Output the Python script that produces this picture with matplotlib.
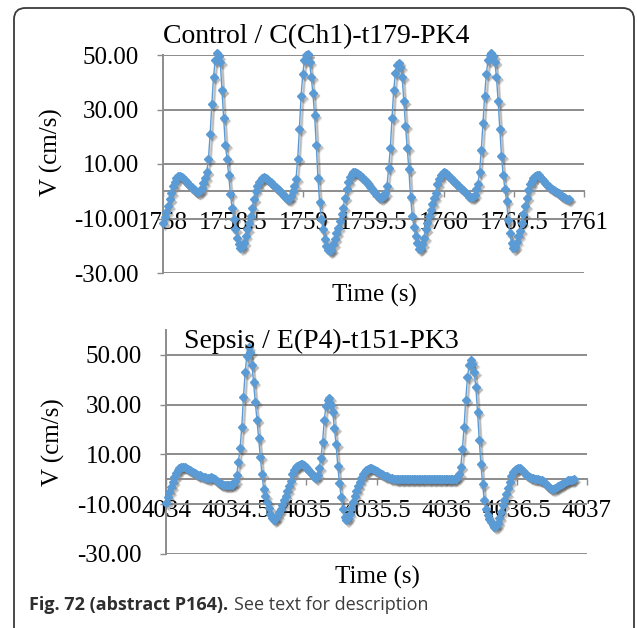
import numpy as np
import matplotlib
matplotlib.use("Agg")
import matplotlib.pyplot as plt
from matplotlib.patches import FancyBboxPatch
from matplotlib.transforms import offset_copy
from matplotlib.ticker import FixedLocator, FuncFormatter

plt.rcParams['font.family'] = 'Liberation Serif'

# sampling of the Doppler velocity trace (s)
SAMPLE_DT = 0.012
control_start = 1758.0
sepsis_start = 4034.0

control_title = "Control / C(Ch1)-t179-PK4"
sepsis_title = "Sepsis / E(P4)-t151-PK3"

control_xticks = [1758, 1758.5, 1759, 1759.5, 1760, 1760.5, 1761]
sepsis_xticks = [4034, 4034.5, 4035, 4035.5, 4036, 4036.5, 4037]
y_ticks = [-30, -10, 10, 30, 50]

# velocity (cm/s), one value per sample
control_v = [
    -11.5, -9.5, -7.5, -5.5, -3, -0.5, 1.8, 3.5, 4.8, 5.5,
    5.7, 5.3, 4.7, 4.0, 3.3, 2.7, 2.1, 1.5, 0.9, 0.3,
    -0.2, -0.4, 0, 1.3, 3, 4.8, 7, 12, 21, 32,
    42, 48, 50.8, 49.5, 47.5, 37, 27, 17, 12, 6,
    -1, -6, -10, -14, -17, -19.5, -20.8, -20.5, -19, -16.5,
    -14, -11.5, -9, -6, -3, 0, 2, 3.3, 4.2, 4.8,
    5.1, 5, 4.5, 3.9, 3.3, 2.7, 2.1, 1.5, 0.9, 0.3,
    -0.3, -0.9, -1.6, -2.3, -2.8, -2.7, -1.8, 0, 2, 4.5,
    12, 23, 35, 43, 48, 50, 50.2, 47.5, 42, 36,
    28, 17, 5, -4, -10, -14, -17.5, -20, -21.5, -22,
    -21.5, -19.5, -17.5, -15.5, -13.5, -11, -8.5, -6, -2.5, 1,
    3.5, 5.3, 6.5, 7, 7.2, 6.8, 6.3, 5.8, 5.2, 4.6,
    4, 3.3, 2.7, 1.6, 0.9, 0, -0.8, -1.5, -2, -2.3,
    -2.2, -1.8, -0.8, 2, 8.5, 16, 27, 37, 43.5, 46.5,
    47.2, 45.5, 42, 33, 24, 16, 8, -2, -9, -13,
    -16.5, -19, -21.3, -21, -19.5, -17, -14, -11.5, -9, -7,
    -4.5, -2.5, -0.5, 2.5, 4.5, 6, 6.7, 7, 6.8, 6.1,
    5.4, 4.8, 4.2, 3.5, 2.9, 2.3, 1.7, 1.1, 0.6, 0,
    -0.7, -1.4, -2, -2.2, -2, -1.2, 1, 2.8, 7, 15,
    25, 35, 43, 48, 50, 50.6, 49.5, 47.5, 42, 33,
    23, 13, 6, 1, -3.5, -10.5, -15.5, -19, -21, -20.5,
    -18.5, -16.5, -14.5, -11.5, -8.5, -5.5, -2.5, 0.5, 2.5, 3.7,
    4.8, 5.5, 6, 6, 5.4, 4.6, 3.8, 3, 2.4, 1.8,
    1.3, 0.8, 0.4, 0.1, -0.3, -0.8, -1.4, -1.9, -2.2, -2.5,
    -2.7, -2.8,
]

sepsis_v = [
    -9.5, -7, -5, -3, -1, 0.8, 2.5, 3.8, 4.6, 5,
    5.1, 5, 4.6, 4.2, 3.8, 3.4, 3, 2.6, 2.2, 1.9,
    1.6, 1.3, 1.1, 0.9, 0.6, 0.4, 0.6, 0.9, 0.7, 0.1,
    -0.5, -1.1, -1.6, -2, -2.2, -2.3, -2.4, -2.4, -2.3, -2.2,
    -1.7, -0.8, 1.7, 7, 12.5, 21, 33, 43, 49.5, 53,
    51, 46, 39, 31, 24, 16.5, 9, 2, -4, -6.5,
    -9, -11.5, -14, -15.5, -16.4, -16, -14.8, -13.2, -11.8, -10.3,
    -8.5, -6.5, -4.5, -2.5, -0.5, 2, 3.8, 4.8, 5.4, 5.8,
    6.2, 6.3, 5.8, 5.1, 4.2, 3.4, 2.6, 1.8, 1.1, 0.5,
    1.8, 4.5, 8.5, 15, 24, 29.5, 32, 32.6, 30, 27,
    20.5, 14, 5.5, -1.5, -7, -12, -15, -16.4, -15.5, -14,
    -11.5, -9, -6.5, -4.5, -2.8, -1, 0.5, 2, 3, 3.8,
    4.3, 4.6, 4.6, 4.3, 3.9, 3.4, 3, 2.6, 2.2, 1.8,
    1.5, 1.2, 0.9, 0.6, 0.4, 0.2, 0.1, 0, 0, 0,
    0, 0, 0, 0, 0, 0, 0, 0, 0, 0,
    0, 0, 0, 0, 0, 0, 0, 0, 0, 0,
    0, 0, 0, 0, 0, 0, 0, 0, 0, 0,
    0, 0, 0.3, 1, 2, 5, 12, 21, 32, 41,
    46, 48, 46.5, 43, 37, 27, 16, 6, -2, -8.5,
    -12, -14.5, -16, -17.2, -18.2, -19, -18.8, -17.5, -15.5, -13,
    -10.5, -8.3, -5.8, -3.3, -1, 1.5, 2.8, 3.8, 4.3, 4.5,
    4.5, 4.2, 3.5, 2.6, 1.9, 1.4, 1, 0.6, 0.4, 0.3,
    0.1, 0, -0.2, -0.4, -0.8, -1.4, -2.1, -2.8, -3.4, -3.9,
    -4, -3.6, -3, -2.6, -2.1, -1.7, -1.3, -1, -0.7, -0.4,
    -0.2, -0.1, 0,
]

W, H = 637, 628
LINE = '#5b9bd5'
AXIS = '#8c8c8c'


def px(x, y):
    return x / W, 1 - y / H


def draw_panel(fig, rect, t0, values, xticks, ylim, title, title_xy, xlabel_xy, ylabel_xy):
    ax = fig.add_axes(rect)
    t = t0 + SAMPLE_DT * np.arange(len(values))

    # soft drop shadow like the Excel series effect
    for dx, dy, a, ms in [(2.5, -3.0, 0.18, 5.4), (1.8, -2.2, 0.25, 4.6)]:
        shadow = offset_copy(ax.transData, fig=fig, x=dx, y=dy, units='dots')
        ax.plot(t, values, color='#505050', lw=1.6, marker='D', ms=ms, alpha=a,
                mec='none', transform=shadow, zorder=2, clip_on=False)
    ax.plot(t, values, color=LINE, lw=1.0, marker='D', ms=4.0, mec=LINE,
            zorder=3, clip_on=False)

    ax.set_xlim(xticks[0], xticks[-1])
    ax.set_ylim(*ylim)
    ax.xaxis.set_major_locator(FixedLocator(xticks))
    ax.xaxis.set_major_formatter(FuncFormatter(lambda v, p: f"{v:g}"))
    ax.yaxis.set_major_locator(FixedLocator(y_ticks))
    ax.yaxis.set_major_formatter(FuncFormatter(lambda v, p: f"{v:.2f}"))

    for side in ('top', 'right'):
        ax.spines[side].set_visible(False)
    ax.spines['bottom'].set_position(('data', 0))
    for side in ('bottom', 'left'):
        ax.spines[side].set_color(AXIS)
        ax.spines[side].set_linewidth(1.4)

    ax.yaxis.grid(True, color=AXIS, lw=1.4)
    ax.set_axisbelow(True)
    ax.tick_params(axis='x', direction='out', length=4, width=1, color=AXIS,
                   pad=11, labelsize=18)
    ax.tick_params(axis='y', direction='out', length=4.5, width=1, color=AXIS,
                   pad=13, labelsize=18)
    ax.patch.set_alpha(0)

    fig.text(*px(*title_xy), title, fontsize=20, ha='center', va='center')
    fig.text(*px(*xlabel_xy), "Time (s)", fontsize=18, ha='center', va='center')
    fig.text(*px(*ylabel_xy), "V (cm/s)", fontsize=18, ha='center', va='center',
             rotation=90)
    return ax


fig = plt.figure(figsize=(W / 100, H / 100), dpi=100)

draw_panel(fig, [163 / W, 1 - 273 / H, 421 / W, 218 / H], control_start, control_v,
           control_xticks, (-30, 50), control_title, (316, 37), (374, 295), (51, 152))
draw_panel(fig, [166 / W, 1 - 554 / H, 421 / W, 224 / H], sepsis_start, sepsis_v,
           sepsis_xticks, (-30, 60), sepsis_title, (321, 341), (377, 577), (53, 442))

box = FancyBboxPatch((14 / W, -0.02), 620 / W, 1.02 - 8 / H,
                     boxstyle='round,pad=0,rounding_size=0.018',
                     transform=fig.transFigure, fill=False, ec='#3a3a3a', lw=1.3)
fig.patches.append(box)

cap1 = fig.text(*px(29, 605), "Fig. 72 (abstract P164).", family='Open Sans',
                weight='bold', fontsize=13, color='#2e2e2e', va='center')
fig.canvas.draw()
bb = cap1.get_window_extent()
fig.text((bb.x1 + 6) / W, 1 - 605 / H, "See text for description", family='Open Sans',
         fontsize=13, color='#3c3c3c', va='center')

fig.savefig("out.png", dpi=100)
